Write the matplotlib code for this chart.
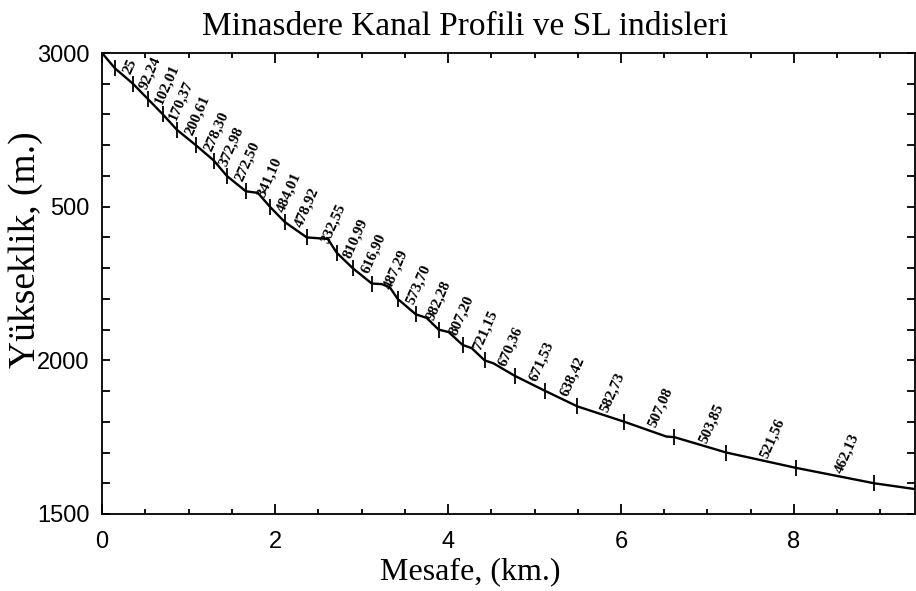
import matplotlib
matplotlib.use("Agg")
import matplotlib.pyplot as plt
from matplotlib.ticker import MultipleLocator, FixedLocator, FixedFormatter

# channel profile (km, m)
prof_km = [0.0, 0.150, 0.358, 0.531, 0.704, 0.866, 1.085, 1.293, 1.443, 1.663, 1.801,
           1.940, 2.113, 2.367, 2.610, 2.714, 2.898, 3.118, 3.233, 3.326, 3.418,
           3.626, 3.753, 3.891, 4.007, 4.169, 4.272, 4.423, 4.527, 4.769, 5.127,
           5.497, 6.039, 6.524, 6.617, 7.217, 8.025, 8.152, 8.926, 9.40]
prof_elev = [3000, 2950, 2900, 2850, 2800, 2750, 2700, 2650, 2600, 2550, 2545,
             2500, 2450, 2400, 2395, 2350, 2300, 2250, 2248, 2238, 2200,
             2150, 2138, 2100, 2092, 2050, 2040, 2000, 1990, 1950, 1900,
             1850, 1800, 1752, 1750, 1700, 1650, 1643, 1600, 1581]

# contour crossings (every 50 m)
mark_km = [0.150, 0.358, 0.531, 0.704, 0.866, 1.085, 1.293, 1.443, 1.663, 1.940,
           2.113, 2.367, 2.714, 2.898, 3.118, 3.418, 3.626, 3.891, 4.169, 4.423,
           4.769, 5.127, 5.497, 6.039, 6.617, 7.217, 8.025, 8.926]
mark_elev = [2950, 2900, 2850, 2800, 2750, 2700, 2650, 2600, 2550, 2500,
             2450, 2400, 2350, 2300, 2250, 2200, 2150, 2100, 2050, 2000,
             1950, 1900, 1850, 1800, 1750, 1700, 1650, 1600]

sl_labels = ["25", "92,24", "102,01", "170,37", "200,61", "278,30", "372,98",
             "272,50", "341,10", "484,01", "478,92", "332,55", "810,99", "616,90",
             "487,29", "573,70", "982,28", "807,20", "721,15", "670,36", "671,53",
             "638,42", "582,73", "507,08", "503,85", "521,56", "462,13"]

y_ticks = [1500, 2000, 2500, 3000]
y_ticklabels = ["1500", "2000", "500", "3000"]
x_ticks = [0, 2, 4, 6, 8]

serif = "Liberation Serif"
sans = "Liberation Sans"

fig = plt.figure(figsize=(9.16, 5.91), dpi=100)
ax = fig.add_axes([0.1114, 0.1303, 0.8876, 0.78])

ax.plot(prof_km, prof_elev, color="black", lw=1.7)
ax.plot(mark_km, mark_elev, ls="none", marker="|", ms=12, mew=1.3, color="black")

for i, lab in enumerate(sl_labels):
    xm = (mark_km[i] + mark_km[i + 1]) / 2
    ym = (mark_elev[i] + mark_elev[i + 1]) / 2
    ax.annotate(lab, (xm, ym), xytext=(2, 2), textcoords="offset points",
                rotation=66, rotation_mode="anchor", ha="left", va="center",
                fontsize=11, fontweight="bold", family=serif)

ax.set_xlim(0, 9.4)
ax.set_ylim(1500, 3000)
ax.xaxis.set_major_locator(FixedLocator(x_ticks))
ax.xaxis.set_minor_locator(MultipleLocator(0.5))
ax.yaxis.set_major_locator(FixedLocator(y_ticks))
ax.yaxis.set_major_formatter(FixedFormatter(y_ticklabels))
ax.yaxis.set_minor_locator(MultipleLocator(100))
ax.tick_params(which="both", direction="in", top=True, right=True, width=1.3)
ax.tick_params(axis="x", which="major", length=7, labelsize=17, pad=12)
ax.tick_params(axis="x", which="minor", length=3.5)
ax.tick_params(axis="y", which="both", length=6)
ax.tick_params(axis="y", which="major", labelsize=17, pad=9)
for lbl in ax.get_xticklabels() + ax.get_yticklabels():
    lbl.set_family(sans)
for sp in ax.spines.values():
    sp.set_linewidth(1.3)

fig.text(465 / 916, 1 - 27 / 591, "Minasdere Kanal Profili ve SL indisleri",
         family=serif, fontsize=24, ha="center", va="center")
fig.text(470 / 916, 1 - 572 / 591, "Mesafe, (km.)",
         family=serif, fontsize=23, ha="center", va="center")
fig.text(26 / 916, 1 - 250 / 591, "Yükseklik, (m.)", rotation=90,
         family=serif, fontsize=27, ha="center", va="center")

plt.savefig("out.png", dpi=100)
plt.close()
